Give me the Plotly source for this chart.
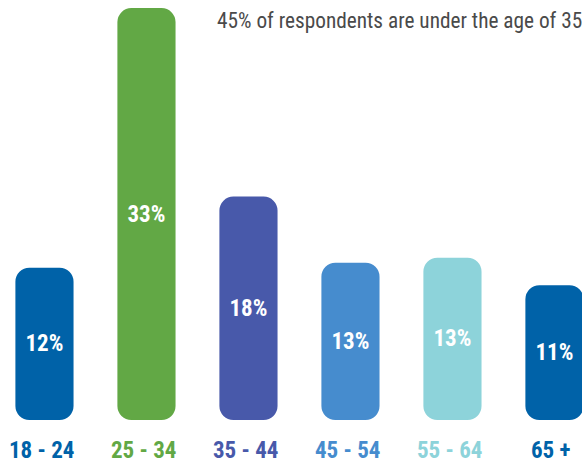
import plotly.graph_objects as go

categories = ["18 - 24", "25 - 34", "35 - 44", "45 - 54", "55 - 64", "65 +"]
values = [12.2, 33.0, 17.9, 12.6, 13.0, 10.8]
labels = ["12%", "33%", "18%", "13%", "13%", "11%"]
colors = ["#0062A8", "#62A845", "#4859AA", "#468CCE", "#8DD3DA", "#0062A8"]
title_text = "45% of respondents are under the age of 35"

xs = list(range(len(categories)))
FONT = "Roboto Condensed, DejaVu Sans Condensed, sans-serif"

fig = go.Figure()
fig.add_trace(go.Bar(
    x=xs, y=values, base=[0] * len(values),
    marker=dict(color=colors, line=dict(width=0)),
    text=labels, textposition="inside", insidetextanchor="middle", textangle=0,
    constraintext="none",
    insidetextfont=dict(family=FONT, size=23, color="white", weight="bold"),
    hoverinfo="skip", showlegend=False,
))

for i, (c, col) in enumerate(zip(categories, colors)):
    fig.add_annotation(x=i, y=0, xref="x", yref="paper", yanchor="middle",
                       xshift=-3, yshift=-30, text=c, showarrow=False,
                       font=dict(family=FONT, size=23, color=col, weight="bold"))

fig.add_annotation(x=0.369, y=1, xref="paper", yref="paper", xanchor="left", yanchor="middle",
                   yshift=-20, text=title_text, showarrow=False,
                   font=dict(family=FONT, size=21.3, color="#4a4a4a"))

fig.update_layout(
    width=582, height=466,
    margin=dict(l=0, r=0, t=0, b=46),
    paper_bgcolor="white", plot_bgcolor="white",
    barmode="overlay", bargap=0.43, barcornerradius=14,
    xaxis=dict(range=[-0.436, 5.27], visible=False, fixedrange=True),
    yaxis=dict(range=[0, 33.65], visible=False, fixedrange=True),
)

fig.write_html(
    "out.html",
    config={"displayModeBar": False},
    post_script="document.body.style.margin='0';document.body.style.overflow='hidden';",
)
